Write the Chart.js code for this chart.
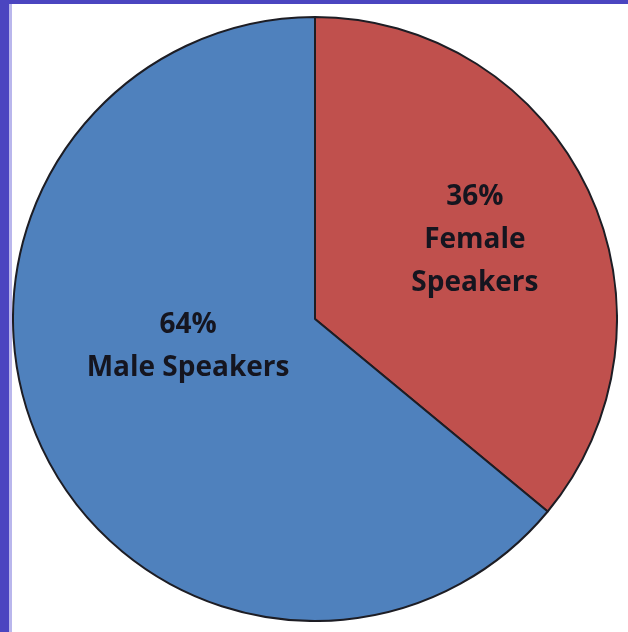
<!DOCTYPE html>
<html>
<head>
<meta charset="utf-8">
<script src="https://cdn.jsdelivr.net/npm/chart.js@4/dist/chart.umd.min.js"></script>
<style>
  html, body { margin: 0; padding: 0; }
  body { width: 628px; height: 632px; background: #4b45c0; position: relative; overflow: hidden; }
  .sheet { position: absolute; left: 9px; top: 4px; width: 619px; height: 628px; background: #fff; border-left: 3px solid #b9b6ec; box-sizing: border-box; }
  .wrap { position: absolute; left: 12px; top: 16px; width: 606px; height: 606px; }
</style>
</head>
<body>
<div class="sheet"></div>
<div class="wrap"><canvas id="pie"></canvas></div>
<script>
var categories = ['Female Speakers', 'Male Speakers'];
var shares = [36, 64];
var labelLines = [['36%', 'Female', 'Speakers'], ['64%', 'Male Speakers']];
var sliceColors = ['#c0504d', '#4f81bd'];

// where the label block sits inside each slice (fraction of radius, angle nudge in degrees)
var labelRadius = [0.59, 0.43];
var labelNudge = [-1, 13];

var sliceLabels = {
  id: 'sliceLabels',
  afterDatasetsDraw: function (chart) {
    var ctx = chart.ctx;
    var meta = chart.getDatasetMeta(0);
    ctx.save();
    ctx.fillStyle = '#15151f';
    ctx.font = 'bold 28px "Open Sans", sans-serif';
    ctx.textAlign = 'center';
    ctx.textBaseline = 'middle';
    meta.data.forEach(function (arc, i) {
      var p = arc.getProps(['x', 'y', 'startAngle', 'endAngle', 'outerRadius']);
      var mid = (p.startAngle + p.endAngle) / 2 + labelNudge[i] * Math.PI / 180;
      var r = p.outerRadius * labelRadius[i];
      var cx = p.x + Math.cos(mid) * r;
      var cy = p.y + Math.sin(mid) * r;
      var lines = labelLines[i];
      var lh = 43;
      var top = cy - (lines.length - 1) * lh / 2;
      lines.forEach(function (t, k) {
        ctx.fillText(t, cx, top + k * lh);
      });
    });
    ctx.restore();
  }
};

new Chart(document.getElementById('pie').getContext('2d'), {
  type: 'pie',
  data: {
    labels: categories,
    datasets: [{
      data: shares,
      backgroundColor: sliceColors,
      borderColor: '#1d1d24',
      borderWidth: 2
    }]
  },
  options: {
    responsive: true,
    maintainAspectRatio: false,
    animation: false,
    layout: { padding: 0 },
    plugins: {
      legend: { display: false },
      tooltip: { enabled: false }
    }
  },
  plugins: [sliceLabels]
});
</script>
</body>
</html>
